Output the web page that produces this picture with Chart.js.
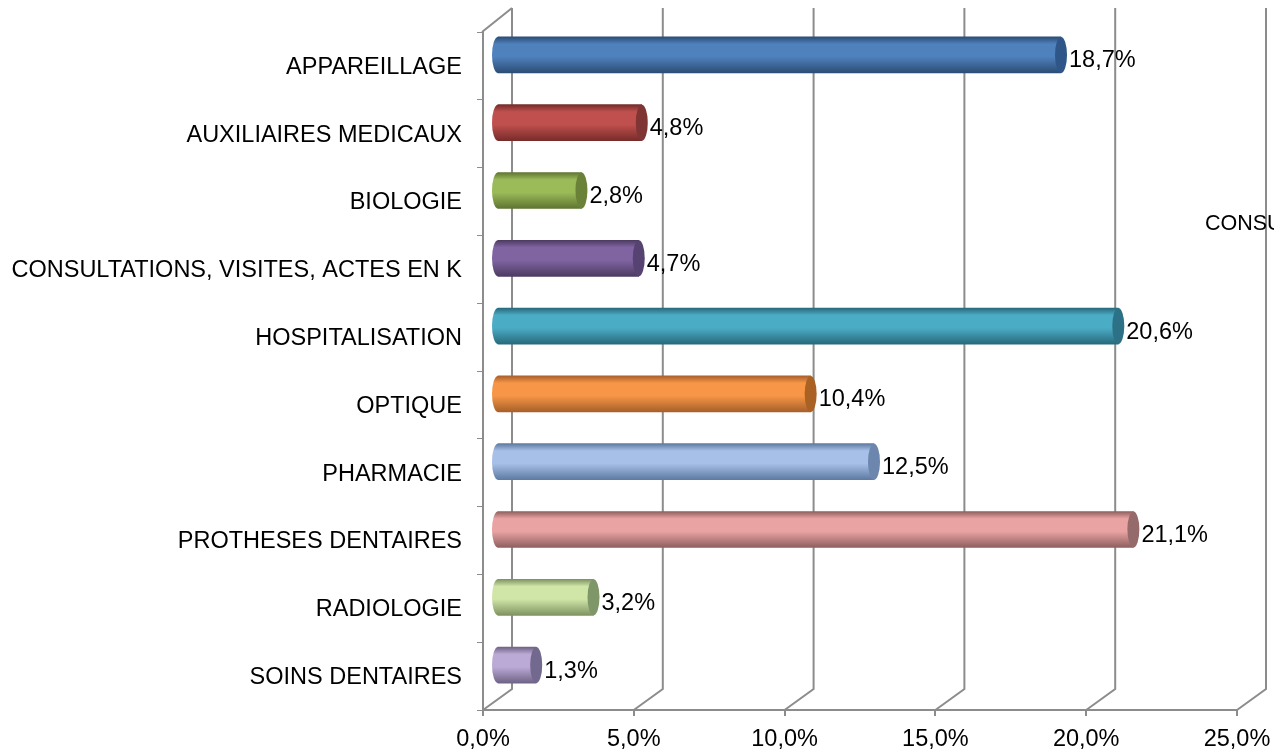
<!DOCTYPE html>
<html>
<head>
<meta charset="utf-8">
<style>
    html, body { margin: 0; padding: 0; background: #fff; overflow: hidden; }
    canvas { display: block; }
</style>
<script src="https://cdn.jsdelivr.net/npm/chart.js@4"></script>
</head>
<body>
<canvas id="chart" width="1274" height="752"></canvas>
<script>
const categories = ["APPAREILLAGE", "AUXILIAIRES MEDICAUX", "BIOLOGIE", "CONSULTATIONS, VISITES, ACTES EN K", "HOSPITALISATION", "OPTIQUE", "PHARMACIE", "PROTHESES DENTAIRES", "RADIOLOGIE", "SOINS DENTAIRES"];
const shares = [18.7, 4.8, 2.8, 4.7, 20.6, 10.4, 12.5, 21.1, 3.2, 1.3];
const xTicks = [0, 5, 10, 15, 20, 25];

// [edge, middle, cap] colour of each cylinder
const barColors = [
    ["#2c4d75", "#4f81bd", "#2f5688"],
    ["#772c2a", "#c0504d", "#7f3533"],
    ["#5f7530", "#9bbb59", "#6a8238"],
    ["#4d3b62", "#8064a2", "#574372"],
    ["#276a7c", "#4bacc6", "#2c7185"],
    ["#a8602a", "#f79646", "#aa6224"],
    ["#5f7ba3", "#a7c0e8", "#6d86ad"],
    ["#8f5f5f", "#eaa3a3", "#956a6a"],
    ["#7f9362", "#cfe6a8", "#7f9669"],
    ["#6f6385", "#bbaad6", "#73688d"]
];

const axisColor = "#8c8c8c";
const fontName = "'Liberation Sans', Arial, sans-serif";
const fontSize = 23.5;
const strayFontSize = 21.5;
const barHeight = 36;
const depth = { x: 29, y: -21 };    // back wall offset
const barShift = { x: 14, y: -11 }; // bars sit in the middle of the depth

function percent(v) {
    return v.toFixed(1).replace(".", ",") + "%";
}

function barGradient(ctx, yMid, i) {
    const c = barColors[i];
    // scales have no size yet on the first pass
    if (!isFinite(yMid)) return c[1];
    const g = ctx.createLinearGradient(0, yMid - barHeight / 2, 0, yMid + barHeight / 2);
    g.addColorStop(0, c[0]);
    g.addColorStop(0.2, c[1]);
    g.addColorStop(0.55, c[1]);
    g.addColorStop(1, c[0]);
    return g;
}

const cylinderPlugin = {
    id: "cylinder",
    beforeDatasetsDraw(chart) {
        const ctx = chart.ctx;
        const area = chart.chartArea;
        const x = chart.scales.x;

        // gridlines on the floor and back wall
        ctx.save();
        ctx.strokeStyle = axisColor;
        ctx.lineWidth = 2;
        xTicks.forEach(t => {
            const px = x.getPixelForValue(t);
            ctx.beginPath();
            ctx.moveTo(px, area.bottom);
            ctx.lineTo(px + depth.x, area.bottom + depth.y);
            ctx.lineTo(px + depth.x, 8);
            ctx.stroke();
        });
        ctx.beginPath();
        ctx.moveTo(area.left - 1, area.top);
        ctx.lineTo(area.left + depth.x, 8);
        ctx.stroke();
        ctx.restore();

        ctx.save();
        ctx.translate(barShift.x, barShift.y);
    },
    afterDatasetsDraw(chart) {
        const ctx = chart.ctx;
        const meta = chart.getDatasetMeta(0);

        meta.data.forEach((bar, i) => {
            // round left end
            ctx.fillStyle = barGradient(ctx, bar.y, i);
            ctx.beginPath();
            ctx.ellipse(bar.base, bar.y, 6, barHeight / 2, 0, Math.PI / 2, Math.PI * 1.5);
            ctx.fill();
            // right end cap
            ctx.fillStyle = barColors[i][2];
            ctx.beginPath();
            ctx.ellipse(bar.x, bar.y, 6, barHeight / 2, 0, 0, Math.PI * 2);
            ctx.fill();
        });
        ctx.restore();

        // value labels
        ctx.save();
        ctx.font = fontSize + "px " + fontName;
        ctx.fillStyle = "#000";
        ctx.textBaseline = "middle";
        ctx.textAlign = "left";
        meta.data.forEach((bar, i) => {
            ctx.fillText(percent(shares[i]), bar.x + barShift.x + 8, bar.y + barShift.y + 6);
        });
        // stray axis title, cut by the edge of the picture
        ctx.font = strayFontSize + "px " + fontName;
        ctx.fillText(categories[3], 1205, 224);
        ctx.restore();
    }
};

new Chart(document.getElementById("chart"), {
    type: "bar",
    data: {
        labels: categories,
        datasets: [{
            data: shares,
            barThickness: barHeight,
            clip: false,
            borderWidth: 0,
            backgroundColor: c => barGradient(c.chart.ctx, c.chart.scales.y.getPixelForValue(c.dataIndex), c.dataIndex)
        }]
    },
    options: {
        indexAxis: "y",
        responsive: false,
        animation: false,
        layout: { padding: { top: 32, right: 37, left: 0, bottom: 0 } },
        plugins: { legend: { display: false }, title: { display: false }, tooltip: { enabled: false } },
        scales: {
            x: {
                min: 0,
                max: 25,
                afterBuildTicks: s => { s.ticks = xTicks.map(v => ({ value: v })); },
                // keep the plot edges fixed, whatever the width of the last label
                afterFit: s => { s.height = 42; s.paddingLeft = 0; s.paddingRight = 0; },
                border: { display: true, color: axisColor, width: 2 },
                grid: { drawOnChartArea: false, color: axisColor, lineWidth: 2, tickLength: 6 },
                ticks: {
                    color: "#000",
                    padding: 9,
                    maxRotation: 0,
                    font: { family: fontName, size: fontSize },
                    callback: v => percent(v)
                }
            },
            y: {
                afterFit: s => { s.width = 483; },
                border: { display: true, color: axisColor, width: 2 },
                grid: { drawOnChartArea: false, offset: true, color: axisColor, lineWidth: 1, tickLength: 6 },
                ticks: {
                    color: "#000",
                    padding: 15,
                    labelOffset: 1.5,
                    autoSkip: false,
                    font: { family: fontName, size: fontSize }
                }
            }
        }
    },
    plugins: [cylinderPlugin]
});
</script>
</body>
</html>
